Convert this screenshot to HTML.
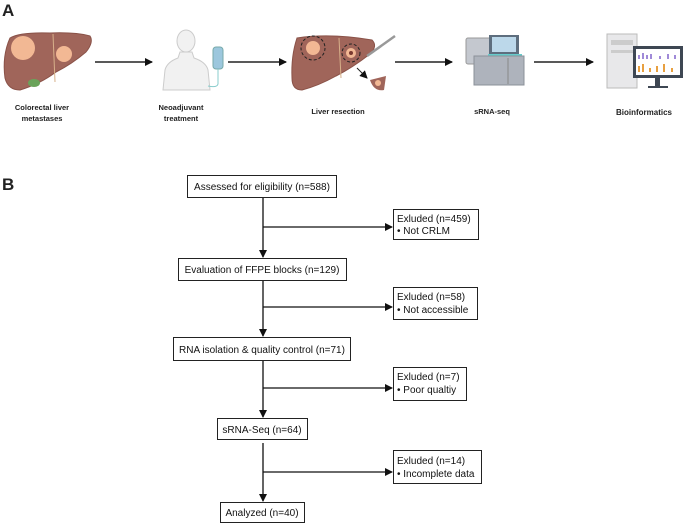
<!DOCTYPE html>
<html><head><meta charset="utf-8"><style>
html,body{margin:0;padding:0;background:#fff;width:685px;height:524px;overflow:hidden}
svg text{font-family:"Liberation Sans",Arial,sans-serif}
</style></head><body>
<svg width="685" height="524" viewBox="0 0 685 524" xmlns="http://www.w3.org/2000/svg">
<defs>
<marker id="a" markerWidth="8" markerHeight="8" refX="7" refY="4" orient="auto" markerUnits="userSpaceOnUse"><path d="M0,0 L8,4 L0,8z" fill="#111"/></marker>
</defs>
<text x="2" y="16" font-size="17" font-weight="bold" fill="#222">A</text>
<text x="2" y="190" font-size="17" font-weight="bold" fill="#222">B</text>

<!-- liver 1 -->
<path d="M10,38 Q20,32 50,33 Q75,32 90,36 Q94,42 86,52 Q72,64 56,72 Q40,84 20,90 Q8,90 5,78 Q2,56 10,38z" fill="#a0655a" stroke="#8a5248" stroke-width="1"/>
<line x1="53" y1="34" x2="55" y2="82" stroke="#d7b08a" stroke-width="1"/>
<circle cx="23" cy="48" r="12" fill="#f2b894"/>
<circle cx="64" cy="54" r="8" fill="#f2b894"/>
<ellipse cx="34" cy="83" rx="6" ry="4" fill="#6aa35a"/>
<line x1="95" y1="62" x2="152" y2="62" stroke="#222" stroke-width="1.5" marker-end="url(#a)"/>

<!-- person -->
<ellipse cx="186" cy="41" rx="9" ry="11" fill="#f1f1f1" stroke="#ccc"/>
<path d="M180,52 L192,52 L194,58 Q206,62 208,70 L210,90 L163,90 L165,70 Q167,62 178,58z" fill="#f1f1f1" stroke="#ccc"/>
<rect x="213" y="47" width="10" height="22" rx="3" fill="#9cc7dd" stroke="#7aa"/>
<path d="M218,69 L218,84 Q217,88 208,86" stroke="#8cc" fill="none"/>
<line x1="228" y1="62" x2="286" y2="62" stroke="#222" stroke-width="1.5" marker-end="url(#a)"/>

<!-- liver 2 -->
<path d="M297,38 Q330,33 372,40 Q378,46 370,54 Q352,68 336,76 Q318,86 302,90 Q292,90 292,78 Q291,56 297,38z" fill="#a0655a" stroke="#8a5248"/>
<line x1="339" y1="38" x2="341" y2="78" stroke="#d7b08a"/>
<circle cx="313" cy="48" r="12" fill="none" stroke="#222" stroke-dasharray="3,2"/>
<circle cx="313" cy="48" r="7" fill="#f2b894"/>
<circle cx="351" cy="53" r="9" fill="none" stroke="#222" stroke-dasharray="3,2"/>
<circle cx="351" cy="53" r="5" fill="#f2b894"/>
<circle cx="351" cy="53" r="2" fill="#7a3a30"/>
<line x1="367" y1="56" x2="395" y2="36" stroke="#999" stroke-width="2.5"/>
<path d="M357,68 L367,78" stroke="#222" marker-end="url(#a)"/>
<path d="M370,80 L386,76 L384,90 Q374,92 370,80z" fill="#a0655a"/>
<circle cx="378" cy="83" r="3" fill="#f2b894"/>
<line x1="395" y1="62" x2="452" y2="62" stroke="#222" stroke-width="1.5" marker-end="url(#a)"/>

<!-- sequencer -->
<rect x="466" y="38" width="50" height="26" rx="2" fill="#c4c8cf" stroke="#999"/>
<rect x="489" y="35" width="30" height="20" fill="#5e6e7e"/>
<rect x="492" y="37" width="24" height="15" fill="#bcd8ea"/>
<rect x="488" y="54" width="34" height="2" fill="#6cc"/>
<rect x="474" y="56" width="50" height="29" fill="#aeb3bc" stroke="#8b9099"/>
<line x1="508" y1="58" x2="508" y2="84" stroke="#888"/>
<line x1="534" y1="62" x2="593" y2="62" stroke="#222" stroke-width="1.5" marker-end="url(#a)"/>

<!-- computer -->
<rect x="607" y="34" width="30" height="54" fill="#e8e8ea" stroke="#bbb"/>
<rect x="611" y="40" width="22" height="5" fill="#ccc"/>
<rect x="611" y="50" width="22" height="3" fill="#ccc"/>
<rect x="633" y="46" width="50" height="32" fill="#3e4753"/>
<rect x="636" y="49" width="44" height="26" fill="#fff"/>
<g stroke="#a08ad8" stroke-width="2"><line x1="639" y1="59" x2="639" y2="55"/><line x1="643" y1="59" x2="643" y2="53"/><line x1="647" y1="59" x2="647" y2="55"/><line x1="651" y1="59" x2="651" y2="54"/><line x1="660" y1="59" x2="660" y2="56"/><line x1="668" y1="59" x2="668" y2="54"/><line x1="675" y1="59" x2="675" y2="55"/></g>
<g stroke="#e8a040" stroke-width="2"><line x1="639" y1="72" x2="639" y2="66"/><line x1="643" y1="72" x2="643" y2="64"/><line x1="650" y1="72" x2="650" y2="68"/><line x1="657" y1="72" x2="657" y2="66"/><line x1="664" y1="72" x2="664" y2="64"/><line x1="672" y1="72" x2="672" y2="68"/></g>
<rect x="655" y="78" width="5" height="8" fill="#3e4753"/>
<rect x="648" y="86" width="20" height="2" fill="#3e4753"/>

<g font-size="7.5" font-weight="bold" fill="#222" text-anchor="middle">
<text x="42" y="110">Colorectal liver</text><text x="42" y="121">metastases</text>
<text x="181" y="110">Neoadjuvant</text><text x="181" y="121">treatment</text>
<text x="338" y="114">Liver resection</text>
<text x="492" y="114">sRNA-seq</text>
<text x="644" y="115" font-size="8">Bioinformatics</text>
</g>

<!-- flowchart -->
<g stroke="#111" stroke-width="1.3" fill="none">
<line x1="263" y1="197" x2="263" y2="257" marker-end="url(#a)"/>
<line x1="263" y1="227" x2="392" y2="227" marker-end="url(#a)"/>
<line x1="263" y1="280" x2="263" y2="336" marker-end="url(#a)"/>
<line x1="263" y1="307" x2="392" y2="307" marker-end="url(#a)"/>
<line x1="263" y1="360" x2="263" y2="417" marker-end="url(#a)"/>
<line x1="263" y1="388" x2="392" y2="388" marker-end="url(#a)"/>
<line x1="263" y1="443" x2="263" y2="501" marker-end="url(#a)"/>
<line x1="263" y1="472" x2="392" y2="472" marker-end="url(#a)"/>
</g>
<g stroke="#222" stroke-width="1" fill="#fff">
<rect x="187.5" y="175.5" width="149" height="22"/>
<rect x="393.5" y="209.5" width="85" height="30"/>
<rect x="178.5" y="258.5" width="168" height="22"/>
<rect x="393.5" y="287.5" width="84" height="32"/>
<rect x="173.5" y="337.5" width="177" height="23"/>
<rect x="393.5" y="367.5" width="73" height="33"/>
<rect x="217.5" y="418.5" width="90" height="21"/>
<rect x="393.5" y="450.5" width="88" height="33"/>
<rect x="220.5" y="502.5" width="84" height="20"/>
</g>
<g font-size="10" fill="#111">
<text x="262" y="190" text-anchor="middle">Assessed for eligibility (n=588)</text>
<text x="397" y="222">Exluded (n=459)</text><text x="397" y="234">• Not CRLM</text>
<text x="262" y="273" text-anchor="middle">Evaluation of FFPE blocks (n=129)</text>
<text x="397" y="300">Exluded (n=58)</text><text x="397" y="313">• Not accessible</text>
<text x="262" y="353" text-anchor="middle">RNA isolation &amp; quality control (n=71)</text>
<text x="397" y="380">Exluded (n=7)</text><text x="397" y="393">• Poor qualtiy</text>
<text x="262" y="433" text-anchor="middle">sRNA-Seq (n=64)</text>
<text x="397" y="464">Exluded (n=14)</text><text x="397" y="477">• Incomplete data</text>
<text x="262" y="516" text-anchor="middle">Analyzed (n=40)</text>
</g>
</svg>
</body></html>
